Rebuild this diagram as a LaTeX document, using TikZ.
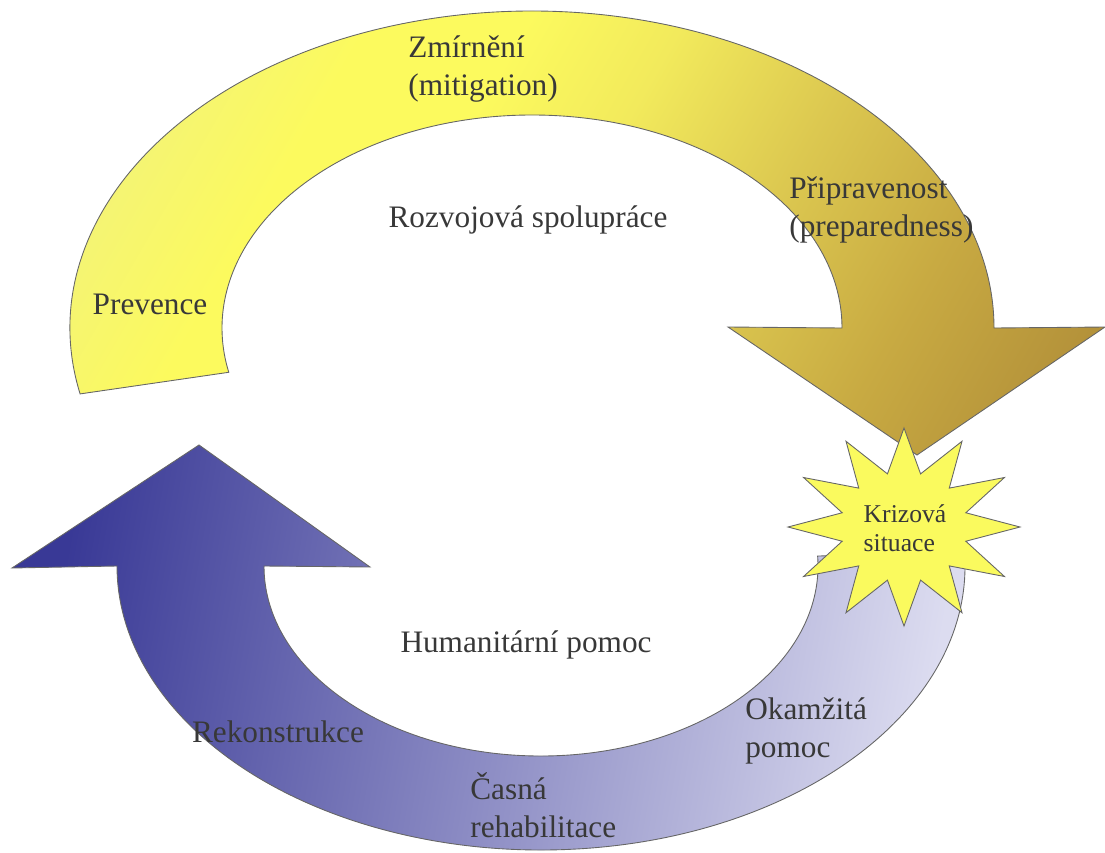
\documentclass[tikz,border=0pt]{standalone}
\usepackage{fontspec}
\setmainfont{Liberation Serif}
\definecolor{ylwlight}{HTML}{F3F378}
\definecolor{ylwbright}{HTML}{FCFA5E}
\definecolor{ylwsoft}{HTML}{F2EA5C}
\definecolor{ylwmid}{HTML}{DCC850}
\definecolor{ylwdeep}{HTML}{C8AA42}
\definecolor{ylwdark}{HTML}{B4923A}
\definecolor{bludark}{HTML}{393996}
\definecolor{blulight}{HTML}{DCDCF0}
\definecolor{starylw}{HTML}{FAFA5E}
\definecolor{txt}{HTML}{383838}
\pgfdeclareverticalshading{goldfade}{100bp}{color(0bp)=(ylwdark); color(20bp)=(ylwdark);
  color(30bp)=(ylwdeep); color(40bp)=(ylwmid); color(50bp)=(ylwsoft); color(58bp)=(ylwbright);
  color(66bp)=(ylwbright); color(76bp)=(ylwlight); color(100bp)=(ylwlight)}
\tikzset{
  rim/.style={draw=gray!80!black, line width=0.5pt},
  lbl/.style={text=txt, font=\fontsize{17.8}{21.5}\selectfont, inner sep=0pt},
  lbll/.style={lbl, align=left, anchor=west},
}
\begin{document}
\begin{tikzpicture}[x=0.02cm, y=-0.02cm]
\useasboundingbox (0,0) rectangle (1105,852);
% upper arc, yellow
\shadedraw[rim, shading=goldfade, shading angle=60]
  (532,328) ++(168:462 and 317) arc[start angle=168, end angle=360, x radius=462, y radius=317]
  -- (1105,327) -- (917,455) -- (728,327) -- (842,328)
  arc[start angle=360, end angle=168, x radius=310, y radius=213] -- cycle;
% lower arc, blue
\shadedraw[rim, left color=bludark, right color=blulight, shading angle=80]
  (541,566) ++(-3:424 and 284) arc[start angle=-3, end angle=180, x radius=424, y radius=284]
  -- (12,568) -- (199,445) -- (370,567) -- (264,566)
  arc[start angle=180, end angle=-3, x radius=277, y radius=190] -- cycle;
% star
\begin{scope}[shift={(904,527)}]
\filldraw[rim, fill=starylw] (0:116 and 99)
  \foreach \a in {15,45,...,345} {-- (\a:64 and 55) -- (\a+15:116 and 99)} -- cycle;
\end{scope}
\node[lbll] (mitig) at (408,69) {Zmírnění\\(mitigation)};
\node[lbll] (prep) at (789,210) {Připravenost\\(preparedness)};
\node[lbl] (devel) at (528,220) {Rozvojová spolupráce};
\node[lbl] (prev) at (150,304) {Prevence};
\node[lbl] (human) at (526,645) {Humanitární pomoc};
\node[lbl] (recon) at (278,732) {Rekonstrukce};
\node[lbll] (early) at (470,805) {Časná\\rehabilitace};
\node[lbll] (relief) at (745,731) {Okamžitá\\pomoc};
\node[lbl, align=left, font=\fontsize{14.6}{16.4}\selectfont] (crisis) at (905,528) {Krizová\\situace};
\end{tikzpicture}
\end{document}
